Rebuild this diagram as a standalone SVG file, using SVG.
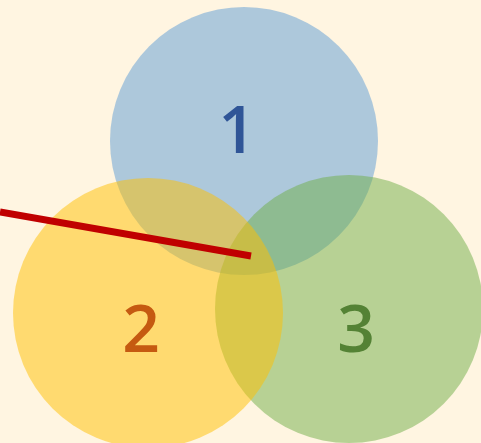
<svg xmlns="http://www.w3.org/2000/svg" width="481" height="443" viewBox="0 0 481 443">
<style>
.c{opacity:0.5}
.t{font-family:"Open Sans","Noto Sans",sans-serif;font-size:66px;font-weight:600;text-anchor:middle}
</style>
<rect width="481" height="443" fill="#FFF5E1"/>
<g id="node1"><circle class="c" cx="244" cy="141" r="134" fill="#5B9BD5"/></g>
<g id="node3"><circle class="c" cx="349" cy="309" r="134" fill="#70AD47"/></g>
<g id="node2"><circle class="c" cx="148" cy="313" r="135" fill="#FFC000"/></g>
<g id="connectors"><line x1="0" y1="212" x2="251" y2="256" stroke="#C00000" stroke-width="7"/></g>
<g id="labels">
<text class="t" x="237" y="153" fill="#2F5597">1</text>
<text class="t" x="141" y="352" fill="#C55A11">2</text>
<text class="t" x="356" y="352" fill="#548235">3</text>
</g>
</svg>
